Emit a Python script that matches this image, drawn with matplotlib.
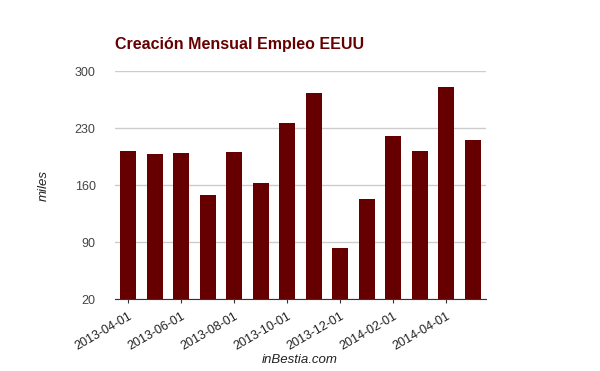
import numpy as np
import matplotlib
matplotlib.use('Agg')
import matplotlib.pyplot as plt

plt.rcParams['font.family'] = ['Liberation Sans', 'DejaVu Sans']

# datos: creacion de empleo mensual (miles)
months = ['2013-04-01', '2013-05-01', '2013-06-01', '2013-07-01', '2013-08-01',
          '2013-09-01', '2013-10-01', '2013-11-01', '2013-12-01', '2014-01-01',
          '2014-02-01', '2014-03-01', '2014-04-01', '2014-05-01']
jobs = [202, 198, 200, 148, 201, 163, 236, 273, 83, 143, 221, 202, 281, 216]
yticks = [20, 90, 160, 230, 300]

bar_color = '#660000'

fig = plt.figure(figsize=(6, 3.71), dpi=100)
ax = fig.add_axes([0.1917, 0.1933, 0.6183, 0.6145])

x = np.arange(len(months))
ax.bar(x, jobs, width=0.6, color=bar_color, zorder=2)

ax.set_xlim(-0.5, len(months) - 0.5)
ax.set_ylim(20, 300)
ax.set_yticks(yticks)
ax.set_yticklabels([str(v) for v in yticks], fontsize=9, color='#444444')
ax.grid(axis='y', color='#cccccc', linewidth=1, zorder=0)

ax.set_xticks(x[::2])
ax.set_xticklabels(months[::2], rotation=30, ha='right', fontsize=9,
                   color='#222222', rotation_mode='anchor')
ax.tick_params(axis='x', length=3, color='#333333', pad=5)
ax.tick_params(axis='y', length=0, pad=14)

for s in ['top', 'right', 'left']:
    ax.spines[s].set_visible(False)
ax.spines['bottom'].set_color('#333333')
ax.spines['bottom'].set_zorder(3)

ax.set_ylabel('miles', fontsize=9.5, style='italic', color='#222222', labelpad=18)
fig.text(0.5, 0.022, 'inBestia.com', fontsize=9.5, style='italic',
         color='#222222', ha='center')
fig.text(0.192, 0.88, 'Creación Mensual Empleo EEUU', fontsize=11.5,
         fontweight='bold', color=bar_color, ha='left', va='center')

fig.savefig('out.png', dpi=100)
